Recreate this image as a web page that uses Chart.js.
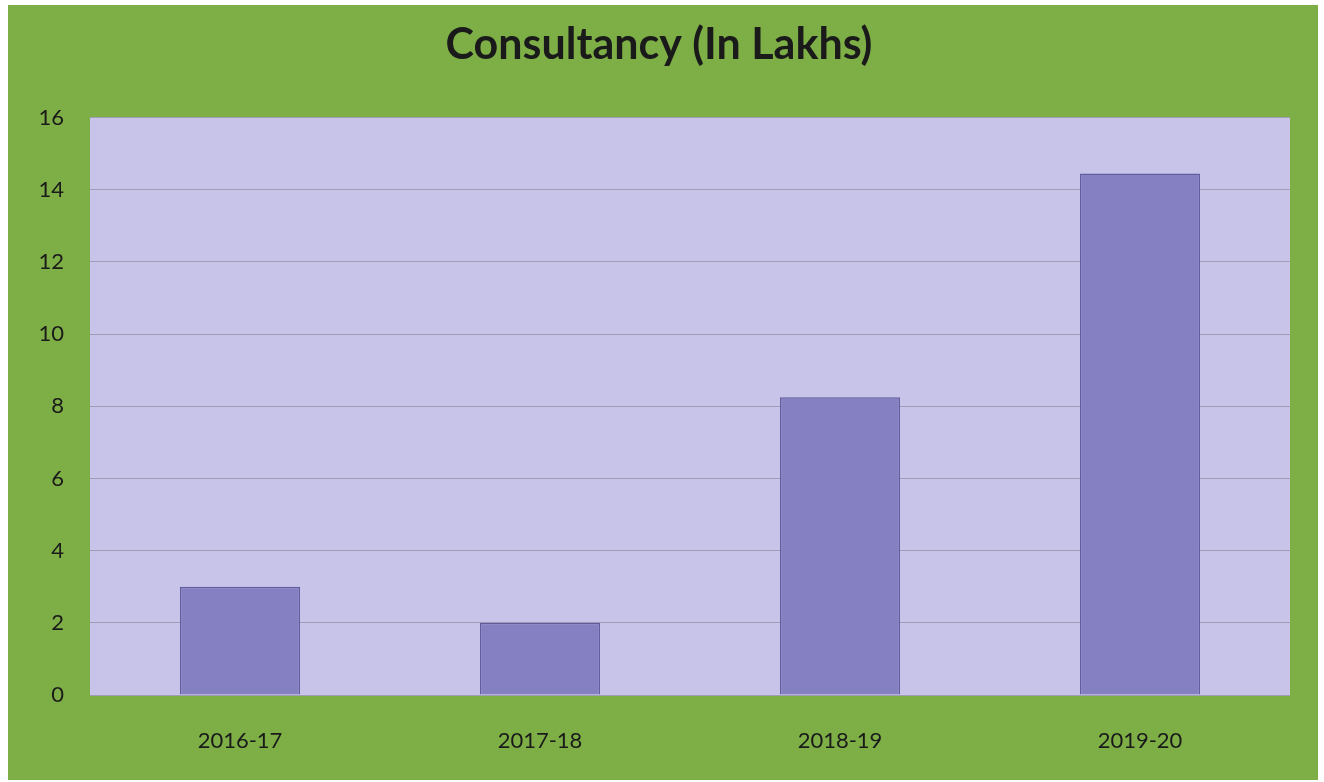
<!DOCTYPE html>
<html>
<head>
<meta charset="utf-8">
<script src="https://cdn.jsdelivr.net/npm/chart.js@4/dist/chart.umd.min.js"></script>
<style>
    body { margin: 0; background: #fff; }
    #frame {
        position: absolute; left: 8px; top: 5px;
        width: 1310px; height: 775px;
        background: #7eaf46;
    }
</style>
</head>
<body>
<div id="frame"><canvas id="consultancyChart"></canvas></div>
<script>
// Consultancy earnings per year, in lakhs
const years = ['2016-17', '2017-18', '2018-19', '2019-20'];
const amounts = [3.0, 2.0, 8.25, 14.45];
const yTicks = [0, 2, 4, 6, 8, 10, 12, 14, 16];

// fill the plot area with lavender before the bars are drawn
const plotBackground = {
    id: 'plotBackground',
    beforeDraw(chart) {
        const { ctx, chartArea: a } = chart;
        ctx.save();
        ctx.fillStyle = '#c8c4e9';
        ctx.fillRect(a.left, a.top, a.right - a.left, a.bottom - a.top);
        ctx.restore();
    }
};

const ctx = document.getElementById('consultancyChart');
new Chart(ctx, {
    type: 'bar',
    data: {
        labels: years,
        datasets: [{
            data: amounts,
            backgroundColor: '#8580c2',
            borderColor: '#625d9e',
            borderWidth: 1.5,
            barPercentage: 0.4,
            categoryPercentage: 1
        }]
    },
    options: {
        responsive: true,
        maintainAspectRatio: false,
        animation: false,
        layout: {
            padding: { left: 20, right: 28, top: 0, bottom: 0 }
        },
        plugins: {
            legend: { display: false },
            tooltip: { enabled: false },
            title: {
                display: true,
                text: 'Consultancy (In Lakhs)',
                color: '#1a1a1a',
                font: { family: 'Lato', size: 43, weight: 'bold' },
                padding: { top: 14, bottom: 47 }
            }
        },
        scales: {
            y: {
                min: 0,
                max: 16,
                afterBuildTicks(axis) {
                    axis.ticks = yTicks.map(v => ({ value: v }));
                },
                afterFit(axis) {
                    axis.width = 62;
                },
                ticks: {
                    color: '#1a1a1a',
                    padding: 26,
                    font: { family: 'Lato', size: 22 }
                },
                grid: { color: '#9f9db6', drawTicks: false },
                border: { display: false }
            },
            x: {
                afterFit(axis) {
                    axis.height = 85;
                },
                ticks: {
                    color: '#1a1a1a',
                    padding: 33,
                    font: { family: 'Lato', size: 22 }
                },
                grid: { display: false, drawTicks: false },
                border: { display: false }
            }
        }
    },
    plugins: [plotBackground]
});
</script>
</body>
</html>
